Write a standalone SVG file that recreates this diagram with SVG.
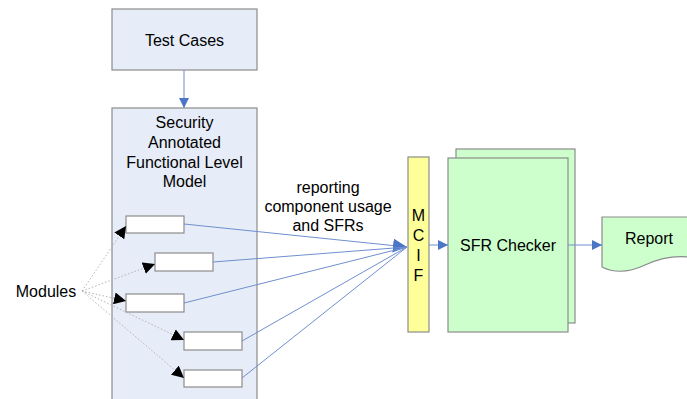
<svg xmlns="http://www.w3.org/2000/svg" width="687" height="399" viewBox="0 0 687 399">
  <style>
    .box { fill: #e6ecf8; stroke: #8c8c8c; stroke-width: 1.2; }
    .mod { fill: #ffffff; stroke: #8c8c8c; stroke-width: 1.2; }
    .green { fill: #ccffcc; stroke: #8c8c8c; stroke-width: 1.2; }
    .yellow { fill: #ffff99; stroke: #8c8c8c; stroke-width: 1.2; }
    .t { font-family: "Liberation Sans", Arial, sans-serif; font-size: 16px; fill: #000; text-anchor: middle; }
    .flow { stroke: #6f8fd0; stroke-width: 1; fill: none; }
    .dot { stroke: #b4b4b4; stroke-width: 1; stroke-dasharray: 1.5 2; fill: none; }
  </style>
  <defs>
    <marker id="blueArrow" viewBox="0 0 10 10" refX="10" refY="5" markerWidth="10" markerHeight="10" markerUnits="userSpaceOnUse" orient="auto">
      <path d="M0,0 L10,5 L0,10 Z" fill="#4a76c6"/>
    </marker>
    <marker id="bigBlueArrow" viewBox="0 0 10 10" refX="10" refY="5" markerWidth="14" markerHeight="14" markerUnits="userSpaceOnUse" orient="auto">
      <path d="M0,0 L10,5 L0,10 Z" fill="#4a76c6"/>
    </marker>
    <marker id="blackArrow" viewBox="0 0 10 10" refX="10" refY="5" markerWidth="12" markerHeight="12" markerUnits="userSpaceOnUse" orient="auto">
      <path d="M0,0 L10,5 L0,10 Z" fill="#000"/>
    </marker>
  </defs>

  <g id="test-cases">
    <rect class="box" x="112" y="9" width="145" height="61"/>
    <text class="t" x="184.5" y="46">Test Cases</text>
  </g>

  <g id="model">
    <rect class="box" x="112" y="108" width="145" height="300"/>
    <text class="t" x="184.5" y="128">Security</text>
    <text class="t" x="184.5" y="148">Annotated</text>
    <text class="t" x="184.5" y="168">Functional Level</text>
    <text class="t" x="184.5" y="187">Model</text>
  </g>

  <g id="module-1"><rect class="mod" x="126" y="216" width="58" height="17"/></g>
  <g id="module-2"><rect class="mod" x="155" y="253" width="58" height="18"/></g>
  <g id="module-3"><rect class="mod" x="126" y="294" width="58" height="18"/></g>
  <g id="module-4"><rect class="mod" x="184" y="332" width="58" height="18"/></g>
  <g id="module-5"><rect class="mod" x="184" y="370" width="58" height="17"/></g>

  <g id="modules-label">
    <text class="t" x="46" y="297">Modules</text>
  </g>

  <g id="mcif">
    <rect class="yellow" x="408" y="157" width="21" height="175"/>
    <text class="t" x="418.5" y="221">M</text>
    <text class="t" x="418.5" y="241">C</text>
    <text class="t" x="418.5" y="261">I</text>
    <text class="t" x="418.5" y="281">F</text>
  </g>

  <g id="sfr-checker">
    <rect class="green" x="456" y="149" width="119" height="174"/>
    <rect class="green" x="448" y="158" width="120" height="174"/>
    <text class="t" x="508" y="251">SFR Checker</text>
  </g>

  <g id="report">
    <path class="green" d="M602,217 H700 V259 C680,254 660,258 645,265 C628,273 614,273 602,267 Z"/>
    <text class="t" x="649" y="244">Report</text>
  </g>

  <g id="reporting-label">
    <text class="t" x="328" y="193">reporting</text>
    <text class="t" x="328" y="212">component usage</text>
    <text class="t" x="328" y="231">and SFRs</text>
  </g>

  <g id="connectors">
    <line class="flow" x1="184" y1="70" x2="184" y2="108" marker-end="url(#blueArrow)"/>
    <line class="flow" x1="184" y1="224" x2="407" y2="247" marker-end="url(#bigBlueArrow)"/>
    <line class="flow" x1="213" y1="262" x2="407" y2="247"/>
    <line class="flow" x1="184" y1="303" x2="407" y2="247"/>
    <line class="flow" x1="242" y1="341" x2="407" y2="247"/>
    <line class="flow" x1="242" y1="378" x2="407" y2="247"/>
    <line class="flow" x1="429" y1="245" x2="448" y2="245" marker-end="url(#blueArrow)"/>
    <line class="flow" x1="568" y1="245" x2="602" y2="245" marker-end="url(#blueArrow)"/>

    <line class="dot" x1="82" y1="291" x2="126" y2="226" marker-end="url(#blackArrow)"/>
    <line class="dot" x1="82" y1="291" x2="155" y2="264" marker-end="url(#blackArrow)"/>
    <line class="dot" x1="82" y1="291" x2="126" y2="301" marker-end="url(#blackArrow)"/>
    <line class="dot" x1="82" y1="291" x2="184" y2="340" marker-end="url(#blackArrow)"/>
    <line class="dot" x1="82" y1="291" x2="184" y2="378" marker-end="url(#blackArrow)"/>
  </g>
</svg>
